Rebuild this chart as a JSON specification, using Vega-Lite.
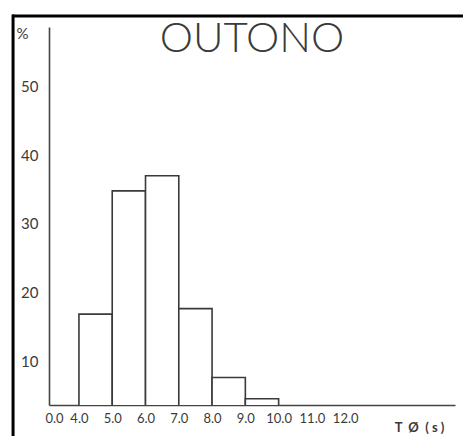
{
  "$schema": "https://vega.github.io/schema/vega-lite/v6.json",
  "autosize": {"type": "none"},
  "padding": {"left": 49, "top": 27, "right": 8, "bottom": 31},
  "width": 406,
  "height": 378,
  "background": "white",
  "title": {
    "text": "OUTONO",
    "anchor": "middle",
    "frame": "group",
    "font": "Lato",
    "fontSize": 42,
    "fontWeight": 300,
    "color": "#3a3a3a",
    "offset": -48
  },
  "datasets": {
    "bins": [
      {"t_start": 4, "t_end": 5, "pct": 16.9},
      {"t_start": 5, "t_end": 6, "pct": 34.8},
      {"t_start": 6, "t_end": 7, "pct": 37.0},
      {"t_start": 7, "t_end": 8, "pct": 17.7},
      {"t_start": 8, "t_end": 9, "pct": 7.7},
      {"t_start": 9, "t_end": 10, "pct": 4.6}
    ],
    "frame": [
      {"edge": "top", "x0": 2.0, "x1": 16.5, "y0": 60.2, "y1": 60.2},
      {"edge": "left", "x0": 2.02, "x1": 2.02, "y0": 60.4, "y1": -2.0}
    ]
  },
  "config": {
    "view": {"stroke": null},
    "axis": {
      "labelFont": "Lato",
      "titleFont": "Lato",
      "labelColor": "#3a3a3a",
      "titleColor": "#3a3a3a",
      "domainColor": "#444444",
      "domainWidth": 1.6,
      "grid": false,
      "ticks": false
    }
  },
  "layer": [
    {
      "data": {"name": "bins"},
      "mark": {"type": "bar", "fill": "white", "stroke": "#3a3a3a", "strokeWidth": 1.6, "clip": true},
      "encoding": {
        "x": {
          "field": "t_start",
          "type": "quantitative",
          "scale": {"domain": [3.1, 15.3], "nice": false, "zero": false},
          "axis": {
            "values": [3.25, 4, 5, 6, 7, 8, 9, 10, 11, 12],
            "labelExpr": "datum.value < 4 ? '0.0' : format(datum.value, '.1f')",
            "labelFontSize": 13,
            "labelPadding": 7,
            "labelFlush": false,
            "title": "T\u00a0\u00a0Ø\u00a0\u00a0(\u00a0s\u00a0)",
            "titleFontSize": 13,
            "titleFontWeight": "bold",
            "titleAnchor": "start",
            "titleAlign": "center",
            "titleBaseline": "middle",
            "titleX": 370,
            "titleY": 22
          }
        },
        "x2": {"field": "t_end"},
        "y": {
          "field": "pct",
          "type": "quantitative",
          "scale": {"domain": [3.7, 58.6], "nice": false, "zero": false},
          "axis": {
            "values": [10, 20, 30, 40, 50],
            "labelFontSize": 15,
            "labelPadding": 11,
            "title": "%",
            "titleFontSize": 15,
            "titleFontWeight": "normal",
            "titleAngle": 0,
            "titleAlign": "center",
            "titleBaseline": "middle",
            "titleX": -27,
            "titleY": 6
          }
        },
        "y2": {"datum": 0}
      }
    },
    {
      "data": {"name": "frame"},
      "mark": {"type": "rule", "color": "black", "strokeWidth": 3, "clip": false},
      "encoding": {
        "x": {"field": "x0", "type": "quantitative"},
        "x2": {"field": "x1"},
        "y": {"field": "y0", "type": "quantitative"},
        "y2": {"field": "y1"}
      }
    }
  ]
}
